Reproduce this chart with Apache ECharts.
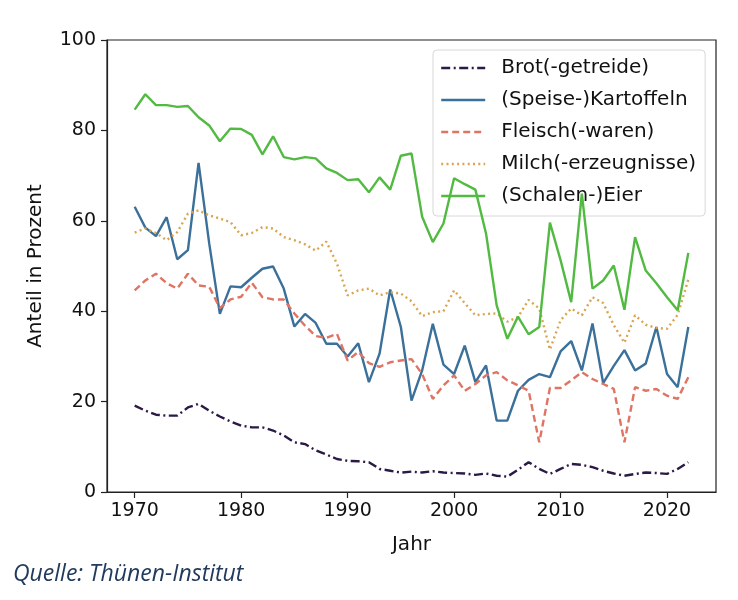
<!DOCTYPE html>
<html>
<head>
<meta charset="utf-8">
<script src="https://cdn.jsdelivr.net/npm/echarts@6/dist/echarts.min.js"></script>
<style>
html,body{margin:0;padding:0;background:#fff;}
#chart{width:738px;height:600px;}
</style>
</head>
<body>
<div id="chart"></div>
<script>
const years = [];
for (let y = 1970; y <= 2022; y++) years.push(y);

const brot = [19.1,18.0,17.1,16.9,16.9,18.7,19.5,18.0,16.7,15.6,
  14.7,14.3,14.3,13.6,12.5,11.0,10.6,9.2,8.3,7.3,
  6.9,6.8,6.6,5.1,4.7,4.3,4.5,4.3,4.6,4.3,
  4.2,4.1,3.8,4.1,3.6,3.4,4.9,6.6,5.1,4.0,
  5.1,6.2,6.0,5.5,4.7,4.1,3.6,4.0,4.3,4.2,
  4.0,5.1,6.6];
const kartoffeln = [63.1,58.5,56.6,60.8,51.5,53.5,72.8,55.0,39.4,45.5,
  45.3,47.4,49.4,49.9,45.0,36.6,39.4,37.4,32.8,32.8,
  30.0,32.9,24.3,30.6,44.8,36.5,20.2,26.9,37.2,28.2,
  26.1,32.4,24.3,28.0,15.8,15.8,22.4,24.8,26.1,25.4,
  31.1,33.4,26.9,37.3,24.1,27.9,31.4,26.9,28.4,36.5,
  26.1,23.2,36.5];
const fleisch = [44.6,46.8,48.3,46.2,45.0,48.3,45.7,45.4,40.7,42.6,
  43.2,46.3,43.1,42.6,42.6,39.5,36.8,34.5,34.1,35.0,
  29.1,31.0,28.5,27.7,28.7,29.1,29.4,26.1,20.6,23.6,
  25.8,22.4,23.9,25.8,26.5,24.7,23.6,22.4,11.0,23.0,
  23.0,24.7,26.5,25.0,23.9,22.8,11.0,23.2,22.4,22.8,
  21.3,20.6,25.4];
const milch = [57.4,58.3,57.3,55.7,57.5,61.6,62.3,61.2,60.5,59.7,
  56.8,57.3,58.6,58.3,56.4,55.7,54.8,53.4,55.4,50.5,
  43.5,44.6,45.0,43.5,44.2,43.9,42.2,38.9,39.8,40.0,
  44.6,41.8,39.1,39.4,39.5,37.7,38.7,42.5,40.6,31.5,
  38.0,40.6,39.1,43.1,41.8,36.9,33.0,39.1,37.0,36.3,
  36.1,39.2,47.0];
const eier = [84.6,88.0,85.6,85.6,85.2,85.4,82.9,81.1,77.6,80.4,
  80.3,79.0,74.7,78.7,74.1,73.6,74.1,73.8,71.6,70.6,
  69.0,69.2,66.3,69.6,66.9,74.4,74.9,60.9,55.3,59.4,
  69.4,68.1,66.9,57.2,41.3,33.9,38.8,34.9,36.5,59.6,
  51.3,42.0,66.0,45.0,46.8,50.1,40.3,56.4,49.0,46.2,
  43.1,40.2,52.9];

const seriesNames = ['Brot(-getreide)','(Speise-)Kartoffeln','Fleisch(-waren)','Milch(-erzeugnisse)','(Schalen-)Eier'];
const xTicks = [1970,1980,1990,2000,2010,2020];
const yTicks = [0,20,40,60,80,100];

const pair = arr => years.map((y,i)=>[y,arr[i]]);

const styles = [
  {color:'#2b1a45', type:[9,3.5,2,3.5]},
  {color:'#3a7099', type:'solid'},
  {color:'#df7463', type:[7,4]},
  {color:'#d9a550', type:[2,3.3]},
  {color:'#52ba42', type:'solid'}
];
const dataArrs = [brot,kartoffeln,fleisch,milch,eier];

const font = 'DejaVu Sans';
const chart = echarts.init(document.getElementById('chart'));
chart.setOption({
  animation:false,
  backgroundColor:'#fff',
  title:{
    text:'Quelle: Thünen-Institut',
    left:8, top:558,
    textStyle:{fontFamily:'Open Sans',fontStyle:'italic',fontWeight:'normal',fontSize:23,color:'#223a5c'}
  },
  grid:{left:107, top:40, width:609, height:452, show:true, borderColor:'#222', borderWidth:1.2, backgroundColor:'transparent'},
  legend:{
    orient:'vertical',
    left:433, top:50,
    padding:[8,9,10,7],
    itemGap:12,
    itemWidth:44, itemHeight:20,
    backgroundColor:'rgba(255,255,255,0.8)',
    borderColor:'#d8d8d8', borderWidth:1, borderRadius:4,
    itemStyle:{opacity:0},
    textStyle:{fontFamily:font,fontSize:20,color:'#111',padding:[0,0,0,11]},
    data:seriesNames.map((n,i)=>({name:n, lineStyle:{width:2.4, color:styles[i].color, type:styles[i].type}}))
  },
  xAxis:{
    type:'value', min:1967.4, max:2024.6,
    name:'Jahr', nameLocation:'middle', nameGap:43,
    nameTextStyle:{fontFamily:font,fontSize:20,color:'#111'},
    axisLine:{show:true,lineStyle:{color:'#222',width:1.2}},
    axisTick:{show:true,length:6,inside:false,customValues:xTicks,lineStyle:{color:'#222',width:1.2}},
    axisLabel:{customValues:xTicks,formatter:v=>String(v),fontFamily:font,fontSize:19,color:'#111',margin:10},
    splitLine:{show:false}
  },
  yAxis:{
    type:'value', min:0, max:100, interval:20,
    name:'Anteil in Prozent', nameLocation:'middle', nameGap:61,
    nameTextStyle:{fontFamily:font,fontSize:20,color:'#111'},
    axisLine:{show:true,lineStyle:{color:'#222',width:1.2}},
    axisTick:{show:true,length:6,inside:false,lineStyle:{color:'#222',width:1.2}},
    axisLabel:{fontFamily:font,fontSize:19,color:'#111',margin:11},
    splitLine:{show:false}
  },
  series: seriesNames.map((n,i)=>({
    name:n, type:'line', data:pair(dataArrs[i]),
    symbol:'none', showSymbol:false,
    color:styles[i].color,
    lineStyle:{color:styles[i].color,width:2.4,type:styles[i].type},
    z:2+i
  }))
});
</script>
</body>
</html>
